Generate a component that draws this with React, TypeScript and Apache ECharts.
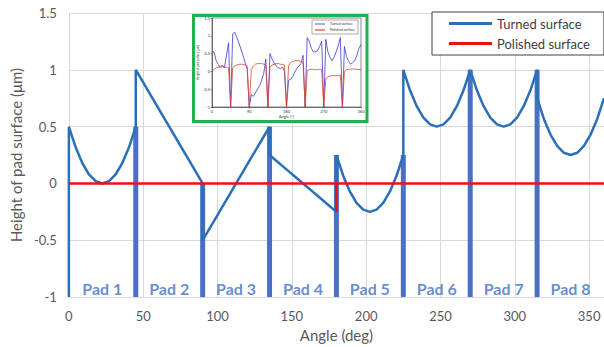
import React, { useEffect, useRef } from "react";
import * as echarts from "echarts";

// ---------- main chart data ----------
const padLabels = ["Pad 1", "Pad 2", "Pad 3", "Pad 4", "Pad 5", "Pad 6", "Pad 7", "Pad 8"];
const padStartAngles = [0, 45, 90, 135, 180, 225, 270, 315];
const padSpan = 45;
// turned-surface height, 11 evenly spaced readings across each pad
const pad1 = [0.5, 0.32, 0.18, 0.08, 0.02, 0, 0.02, 0.08, 0.18, 0.32, 0.5];
const pad2 = [1, 0.9, 0.8, 0.7, 0.6, 0.5, 0.4, 0.3, 0.2, 0.1, 0];
const pad3 = [-0.5, -0.4, -0.3, -0.2, -0.1, 0, 0.1, 0.2, 0.3, 0.4, 0.5];
const pad4 = [0.25, 0.2, 0.15, 0.1, 0.05, 0, -0.05, -0.1, -0.15, -0.2, -0.25];
const pad5 = [0.25, 0.07, -0.07, -0.17, -0.23, -0.25, -0.23, -0.17, -0.07, 0.07, 0.25];
const pad6 = [1, 0.82, 0.68, 0.58, 0.52, 0.5, 0.52, 0.58, 0.68, 0.82, 1];
const pad7 = [1, 0.82, 0.68, 0.58, 0.52, 0.5, 0.52, 0.58, 0.68, 0.82, 1];
const pad8 = [0.75, 0.57, 0.43, 0.33, 0.27, 0.25, 0.27, 0.33, 0.43, 0.57, 0.75];
const turnedPads = [pad1, pad2, pad3, pad4, pad5, pad6, pad7, pad8];
const grooveAngles = [45, 90, 135, 180, 225, 270, 315];
const grooveTops = [0.5, 0, 0.5, 0.25, 0.25, 1, 1];
const polishedAngles = [0, 180, 180, 180, 360];
const polishedValues = [0, 0, -0.25, 0, 0];
const yMin = -1;
const yMax = 1.5;

// ---------- inset chart data (readings every 5 deg) ----------
const insetStep = 5;
const insetTurned = [
  0.55, 0.55, 0.3, 0.2, 0.12, 0.18, 0.1, 0.45, 0.8, -1,
  1.05, 1.1, 0.95, 0.8, 0.62, 0.45, 0.25, 0.05, -1,
  -0.65, -0.7, -0.6, -0.5, -0.4, -0.25, -0.05, 0.35, -1,
  0.5, 0.35, 0.25, 0.15, 0.1, 0.08, 0.12, 0.0, -1,
  -0.25, -0.22, -0.15, -0.02, 0.08, 0.15, 0.22, 0.45, -1,
  0.95, 0.85, 0.65, 0.55, 0.55, 0.58, 0.7, 0.85, -1,
  0.9, 0.55, 0.4, 0.3, 0.4, 0.55, 0.72, 0.95, -1,
  0.7, 0.42, 0.28, 0.2, 0.25, 0.3, 0.45, 0.65, 0.75,
];
const insetPolished = [
  0, 0.05, 0.1, 0.12, 0.12, 0.13, 0.12, 0.12, 0.1, -1,
  0.1, 0.15, 0.18, 0.2, 0.2, 0.2, 0.18, 0.15, -1,
  0.05, 0.15, 0.2, 0.22, 0.22, 0.22, 0.2, 0.18, -1,
  0.12, 0.18, 0.2, 0.22, 0.22, 0.2, 0.2, 0.18, -1,
  0.15, 0.25, 0.28, 0.3, 0.3, 0.3, 0.28, 0.25, -1,
  0.02, 0.05, 0.06, 0.06, 0.05, 0.05, 0.06, 0.05, -1,
  -0.2, -0.15, -0.13, -0.12, -0.12, -0.12, -0.12, -0.1, -1,
  0.0, 0.05, 0.06, 0.06, 0.06, 0.07, 0.06, 0.05, 0.05,
];

const FONT = "Lato";

export default function App() {
  const ref = useRef<HTMLDivElement>(null);
  useEffect(() => {
    if (!ref.current) return;
    const chart = echarts.init(ref.current, undefined, { renderer: "svg" });

    const turnedData: number[][] = [[0, yMin]];
    turnedPads.forEach((vals, p) => {
      const n = vals.length - 1;
      vals.forEach((v, i) => turnedData.push([padStartAngles[p] + (padSpan * i) / n, v]));
    });
    const grooveData = grooveAngles.map((a, i) => [a, grooveTops[i]]);
    const polishedData = polishedAngles.map((a, i) => [a, polishedValues[i]]);
    const padLabelData = padStartAngles.map((a) => [a + padSpan / 2, yMin]);
    const insetTurnedData = insetTurned.map((v, i) => [i * insetStep, v]);
    const insetPolishedData = insetPolished.map((v, i) => [i * insetStep, v]);

    const option: any = {
      animation: false,
      textStyle: { fontFamily: FONT },
      grid: [
        { left: 67, right: -1, top: 13, bottom: 44 },
        { left: 212, right: 243, top: 18, bottom: 240, show: true, borderColor: "#333", borderWidth: 0.6, z: 3 },
      ],
      xAxis: [
        {
          type: "value", min: 0, max: 360, interval: 50, z: 0,
          name: "Angle (deg)", nameLocation: "middle", nameGap: 27,
          nameTextStyle: { fontSize: 15, color: "#595959", fontFamily: FONT },
          axisLine: { onZero: false, lineStyle: { color: "#d9d9d9" } },
          axisTick: { show: false },
          axisLabel: { color: "#595959", fontSize: 13, margin: 12, showMaxLabel: false, fontFamily: FONT },
          splitLine: { lineStyle: { color: "#d9d9d9" } },
        },
        {
          type: "value", gridIndex: 1, min: 0, max: 360, interval: 90, z: 3,
          name: "Angle (°)", nameLocation: "middle", nameGap: 7,
          nameTextStyle: { fontSize: 4, color: "#333" },
          axisLine: { onZero: false, lineStyle: { color: "#333", width: 0.6 } },
          axisTick: { length: 1.5, lineStyle: { color: "#333", width: 0.5 } },
          axisLabel: { fontSize: 4, color: "#333", margin: 2 },
          splitLine: { show: false },
        },
      ],
      yAxis: [
        {
          type: "value", min: yMin, max: yMax, interval: 0.5, z: 0,
          name: "Height of pad surface (μm)", nameLocation: "middle", nameGap: 41,
          nameTextStyle: { fontSize: 15, color: "#595959", fontFamily: FONT },
          axisLine: { show: true, lineStyle: { color: "#d9d9d9" } },
          axisTick: { show: false },
          axisLabel: { color: "#595959", fontSize: 13, margin: 12, fontFamily: FONT },
          splitLine: { lineStyle: { color: "#d9d9d9" } },
        },
        {
          type: "value", gridIndex: 1, min: yMin, max: yMax, interval: 0.5, z: 3,
          name: "Height of pad surface (μm)", nameLocation: "middle", nameGap: 9,
          nameTextStyle: { fontSize: 3, color: "#333" },
          axisLine: { show: true, onZero: false, lineStyle: { color: "#333", width: 0.6 } },
          axisTick: { length: 1.5, lineStyle: { color: "#333", width: 0.5 } },
          axisLabel: { fontSize: 4, color: "#333", margin: 2 },
          splitLine: { show: false },
        },
      ],
      legend: [
        {
          data: ["Turned surface", "Polished surface"],
          orient: "vertical", left: 432, top: 12,
          padding: [5, 14, 5, 17], itemGap: 7,
          itemWidth: 43, itemHeight: 3, icon: "rect",
          backgroundColor: "#fff", borderColor: "#404040", borderWidth: 1, borderRadius: 0,
          textStyle: { fontSize: 13, color: "#404040", fontFamily: FONT },
        },
        {
          data: ["Turned surface", "Polished surface"],
          orient: "vertical", left: 312, top: 20,
          padding: [2, 3, 2, 3], itemGap: 2,
          itemWidth: 10, itemHeight: 1, icon: "rect", itemTextGap: 2,
          backgroundColor: "#fff", borderColor: "#555", borderWidth: 0.5, borderRadius: 0, z: 6,
          textStyle: { fontSize: 3.5, color: "#333" },
        },
      ],
      graphic: {
        elements: [
          {
            type: "rect", z: 1,
            shape: { x: 193.5, y: 15.5, width: 173.5, height: 106 },
            style: { fill: "#fff", stroke: "#27ae4f", lineWidth: 3 },
          },
        ],
      },
      series: [
        {
          type: "custom", name: "grooves", z: 2,
          renderItem: (params: any, api: any) => {
            const x = api.value(0);
            const top = api.value(1);
            const p1 = api.coord([x, yMin]);
            const p2 = api.coord([x, top]);
            return {
              type: "rect",
              shape: { x: p1[0] - 2.5, y: p2[1], width: 5, height: p1[1] - p2[1] },
              style: { fill: "#4a70c4" },
            };
          },
          data: grooveData,
        },
        {
          type: "line", name: "Turned surface", data: turnedData, z: 3,
          showSymbol: false, symbol: "none",
          lineStyle: { color: "#2a6fb8", width: 2.5 },
          itemStyle: { color: "#2a6fb8" },
        },
        {
          type: "line", name: "Polished surface", data: polishedData, z: 4,
          showSymbol: false, symbol: "none",
          lineStyle: { color: "#f01010", width: 2.5 },
          itemStyle: { color: "#f01010" },
        },
        {
          type: "scatter", name: "pads", data: padLabelData, symbolSize: 0, z: 5,
          label: {
            show: true, position: "top", distance: 1,
            formatter: (p: any) => padLabels[p.dataIndex],
            color: "#4070c0", fontSize: 16, fontWeight: "bold", fontFamily: FONT,
          },
        },
        {
          type: "line", name: "Turned surface", xAxisIndex: 1, yAxisIndex: 1, z: 5,
          data: insetTurnedData, showSymbol: false, symbol: "none",
          lineStyle: { color: "#3a3ad0", width: 0.8 },
        },
        {
          type: "line", name: "Polished surface", xAxisIndex: 1, yAxisIndex: 1, z: 5,
          data: insetPolishedData, showSymbol: false, symbol: "none",
          lineStyle: { color: "#e0452a", width: 0.8 },
        },
      ],
    };
    chart.setOption(option);
    return () => chart.dispose();
  }, []);
  return (
    <div
      ref={ref}
      style={{ position: "fixed", left: 0, top: 0, width: 604, height: 347, background: "#fff" }}
    />
  );
}
